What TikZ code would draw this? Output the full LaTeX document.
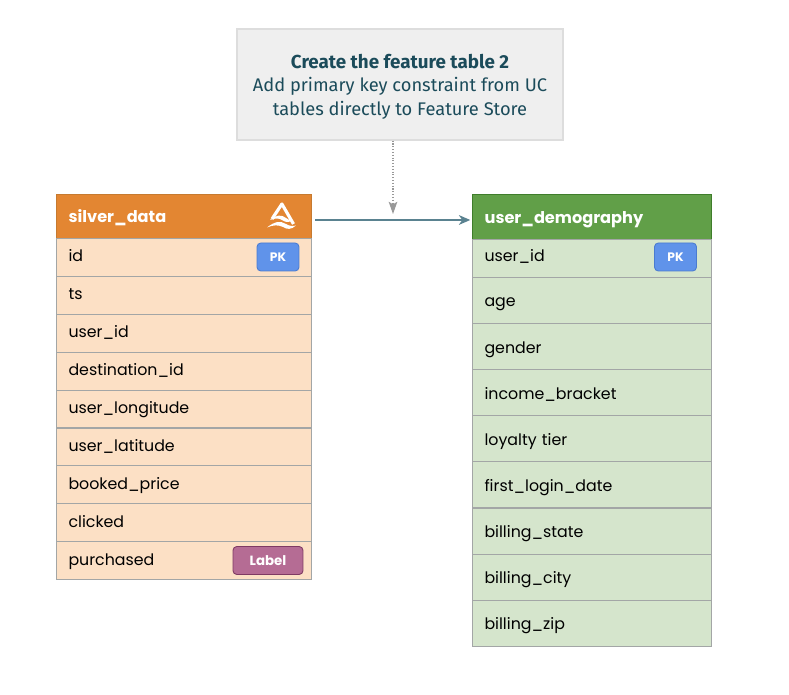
\documentclass[tikz,border=0pt]{standalone}
\usepackage{fontspec}
\setmainfont{Poppins}
\newfontfamily\notefont{Fira Sans}
\usetikzlibrary{arrows.meta}

\definecolor{silverhead}{HTML}{E38632}
\definecolor{silverborder}{HTML}{C67A30}
\definecolor{silverfill}{HTML}{FCE0C5}
\definecolor{userhead}{HTML}{619F48}
\definecolor{userborder}{HTML}{3F7D2B}
\definecolor{userfill}{HTML}{D5E5CC}
\definecolor{rowline}{HTML}{A3A6A6}
\definecolor{pkfill}{HTML}{6093EA}
\definecolor{pkborder}{HTML}{4A7BD0}
\definecolor{labelfill}{HTML}{B56C94}
\definecolor{labelborder}{HTML}{7E3A63}
\definecolor{notefill}{HTML}{EFEFEF}
\definecolor{noteborder}{HTML}{DDDDDD}
\definecolor{notetext}{HTML}{1B4B5A}
\definecolor{flowcolor}{HTML}{5A8290}

\tikzset{
  headcell/.style={draw, line width=0.7pt, anchor=north west, align=left, inner sep=0pt,
    text=white, font=\fontsize{9.2}{11}\selectfont\bfseries, text height=8.6pt, text depth=1.4pt},
  silverhdr/.style={headcell, fill=silverhead, draw=silverborder, minimum width=5.1cm, minimum height=0.88cm, text width=4.62cm},
  userhdr/.style={headcell, fill=userhead, draw=userborder, minimum width=4.78cm, minimum height=0.9cm, text width=4.3cm},
  rowcell/.style={draw=rowline, line width=0.6pt, anchor=north west, inner sep=0pt, align=left,
    font=\fontsize{9}{11}\selectfont, text=black, text height=7pt, text depth=2pt},
  silverrow/.style={rowcell, fill=silverfill, minimum width=5.1cm, minimum height=0.758cm, text width=4.62cm},
  userrow/.style={rowcell, fill=userfill, minimum width=4.78cm, text width=4.3cm},
  badge/.style={draw, rounded corners=2.2pt, line width=0.5pt, inner sep=0pt, minimum height=0.56cm,
    text=white, font=\fontsize{7}{8}\selectfont\bfseries},
  pkbadge/.style={badge, fill=pkfill, draw=pkborder, minimum width=0.84cm},
  labelbadge/.style={badge, fill=labelfill, draw=labelborder, minimum width=1.4cm, font=\fontsize{7.6}{8}\selectfont\bfseries},
  notebox/.style={draw=noteborder, fill=notefill, line width=0.8pt, minimum width=6.52cm, minimum height=2.22cm,
    align=center, text=notetext, font=\notefont\fontsize{10.4}{13.3}\selectfont},
  flowline/.style={draw=flowcolor, line width=0.6pt, shorten >=1pt, -{Stealth[length=6.5pt,width=5.6pt,inset=2pt]}},
  dotline/.style={draw=gray!80, line width=0.6pt, densely dotted, -{Stealth[length=7pt,width=5pt,inset=1.5pt,line width=0pt]}},
}

\begin{document}
\begin{tikzpicture}[x=0.02cm,y=-0.02cm]
  \useasboundingbox (0,0) rectangle (789,695);

  % note on top
  \node[notebox] (note) at (400,84.5) {\rule{0pt}{10.5pt}{\fontsize{10.7}{13.3}\selectfont\bfseries Create the feature table 2}\\Add primary key constraint from UC\\tables directly to Feature Store};

  % left table
  \node[silverhdr] (silver) at (56,194) {silver\_data};
  \foreach \fieldname [count=\i from 0] in {id,ts,user\_id,destination\_id,user\_longitude,user\_latitude,booked\_price,clicked,purchased}
    \node[silverrow] (silver\i) at (56,{238+37.9*\i}) {\fieldname};
  \node[pkbadge] (silverpk) at (278,257) {PK};
  \node[labelbadge] (silverlabel) at (268,560.5) {Label};

  % logo
  \draw[white, line width=1.8pt, line join=round] (272,219) -- (281.9,204) -- (293.5,224);
  \fill[white] (267,227.5) .. controls (274,222) and (280,220) .. (286,224) .. controls (289,226) and (293,226.5) .. (296,225.5)
    .. controls (291,230) and (287,229.5) .. (283,227) .. controls (278,224.5) and (273,225) .. (267,227.5);
  \fill[white] (270,220) .. controls (276,214.5) and (282,214.5) .. (286,218) .. controls (288,219.5) and (290,220.5) .. (292,220.5)
    .. controls (288,223) and (285,222) .. (282,220) .. controls (279,218) and (275,218) .. (270,220);

  % right table
  \node[userhdr] (user) at (472,194) {user\_demography};
  \node[userrow, minimum height=0.76cm, text height=7pt, text depth=3.6pt] (user0) at (472,239) {user\_id};
  \foreach \fieldname [count=\i from 1] in {age,gender,income\_bracket,loyalty tier,first\_login\_date,billing\_state,billing\_city,billing\_zip}
    \node[userrow, minimum height=0.922cm, text height=8.6pt, text depth=1.3pt] (user\i) at (472,{277+46.1*(\i-1)}) {\fieldname};
  \node[pkbadge] (userpk) at (675.5,257) {PK};

  % connectors
  \coordinate (flowstart) at (315,220);
  \coordinate (dotend) at (393,214);
  \draw[flowline] (flowstart) -- (user.west |- flowstart);
  \draw[dotline] (note.south -| dotend) -- (dotend);
\end{tikzpicture}
\end{document}
